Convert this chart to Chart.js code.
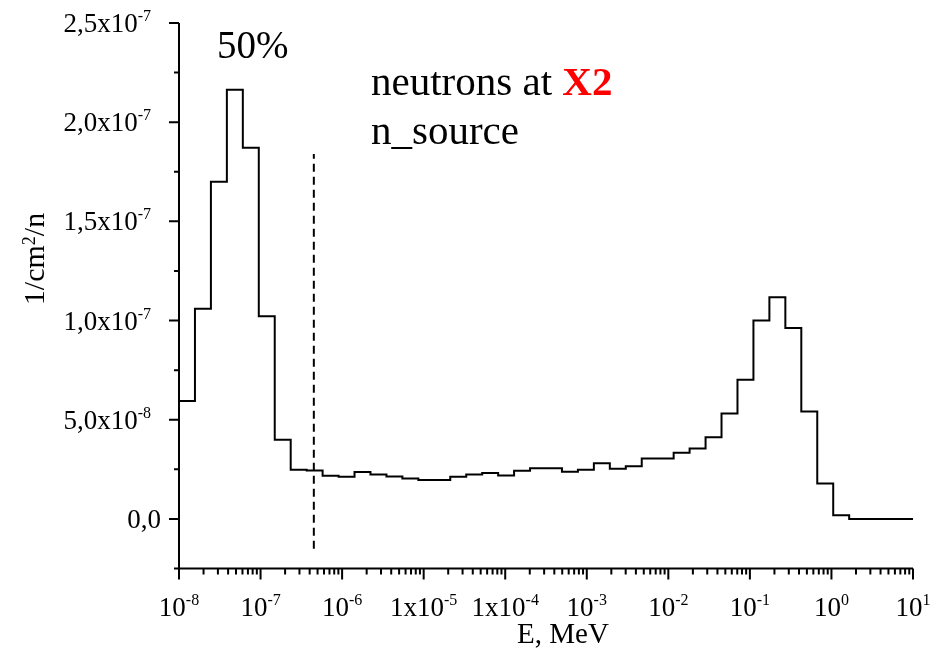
<!DOCTYPE html>
<html>
<head>
<meta charset="utf-8">
<script src="https://cdn.jsdelivr.net/npm/chart.js@4"></script>
<style>
  html, body { margin: 0; padding: 0; background: #fff; }
  #wrap { width: 944px; height: 654px; }
</style>
</head>
<body>
<div id="wrap"><canvas id="spectrum"></canvas></div>
<script>
// group structure: equal lethargy groups between E_MIN and E_MAX (MeV)
const E_MIN = 1e-8;
const E_MAX = 10;
const GROUPS = 46;

// group flux, 1/cm^2/n, lowest energy first
const flux = [
  5.95e-8, 1.06e-7, 1.70e-7, 2.163e-7, 1.871e-7, 1.022e-7, 3.99e-8, 2.48e-8,
  2.44e-8, 2.18e-8, 2.13e-8, 2.36e-8, 2.24e-8, 2.14e-8, 2.04e-8, 1.96e-8,
  1.96e-8, 2.13e-8, 2.24e-8, 2.31e-8, 2.19e-8, 2.43e-8, 2.56e-8, 2.56e-8,
  2.38e-8, 2.48e-8, 2.81e-8, 2.53e-8, 2.66e-8, 3.05e-8, 3.05e-8, 3.34e-8,
  3.55e-8, 4.12e-8, 5.32e-8, 7.02e-8, 1.00e-7, 1.118e-7, 9.62e-8, 5.42e-8,
  1.79e-8, 1.8e-9, 0, 0, 0, 0
];

// thermal cut marker
const cutEnergy = 4.5e-7;
const cutRange = [-1.5e-8, 1.84e-7];

const yMin = -2.5e-8;
const yMax = 2.5e-7;
const yMajor = [0, 5e-8, 1e-7, 1.5e-7, 2e-7, 2.5e-7];
const yMinor = [-2.5e-8, 2.5e-8, 7.5e-8, 1.25e-7, 1.75e-7, 2.25e-7];
const yLabels = [
  ["0,0", ""], ["5,0x10", "-8"], ["1,0x10", "-7"],
  ["1,5x10", "-7"], ["2,0x10", "-7"], ["2,5x10", "-7"]
];

const xMajor = [1e-8, 1e-7, 1e-6, 1e-5, 1e-4, 1e-3, 1e-2, 1e-1, 1, 10];
const xLabels = [
  ["10", "-8"], ["10", "-7"], ["10", "-6"], ["1x10", "-5"], ["1x10", "-4"],
  ["10", "-3"], ["10", "-2"], ["10", "-1"], ["10", "0"], ["10", "1"]
];

const edges = [];
for (let k = 0; k <= GROUPS; k++) {
  edges.push(E_MIN * Math.pow(E_MAX / E_MIN, k / GROUPS));
}

const histPoints = flux.map((v, k) => ({ x: edges[k], y: v }));
histPoints.push({ x: edges[GROUPS], y: flux[GROUPS - 1] });

const FONT = "'Liberation Serif', 'Times New Roman', serif";

// base text followed by a raised exponent
function supWidth(ctx, base, sup, size, supSize) {
  ctx.font = size + "px " + FONT;
  const w = ctx.measureText(base).width;
  ctx.font = supSize + "px " + FONT;
  return w + (sup ? ctx.measureText(sup).width : 0);
}

function drawSup(ctx, base, sup, x, y, size, supSize, rise) {
  ctx.textAlign = "left";
  ctx.textBaseline = "alphabetic";
  ctx.font = size + "px " + FONT;
  ctx.fillText(base, x, y);
  const w = ctx.measureText(base).width;
  if (sup) {
    ctx.font = supSize + "px " + FONT;
    ctx.fillText(sup, x + w, y - rise);
  }
}

const axesPlugin = {
  id: "axes",
  afterDraw(chart) {
    const ctx = chart.ctx;
    const xs = chart.scales.x;
    const ys = chart.scales.y;
    const area = chart.chartArea;
    ctx.save();
    ctx.strokeStyle = "#000";
    ctx.fillStyle = "#000";
    ctx.lineWidth = 2;

    // axis lines
    ctx.beginPath();
    ctx.moveTo(area.left, area.top);
    ctx.lineTo(area.left, area.bottom);
    ctx.lineTo(area.right, area.bottom);
    ctx.stroke();

    // y ticks
    ctx.beginPath();
    yMajor.forEach(v => {
      const py = ys.getPixelForValue(v);
      ctx.moveTo(area.left - 10, py);
      ctx.lineTo(area.left, py);
    });
    yMinor.forEach(v => {
      const py = ys.getPixelForValue(v);
      ctx.moveTo(area.left - 5, py);
      ctx.lineTo(area.left, py);
    });

    // x ticks, decades plus 2..9 minors
    xMajor.forEach(v => {
      const px = xs.getPixelForValue(v);
      ctx.moveTo(px, area.bottom);
      ctx.lineTo(px, area.bottom + 11);
    });
    for (let d = 0; d < xMajor.length - 1; d++) {
      for (let m = 2; m <= 9; m++) {
        const px = xs.getPixelForValue(xMajor[d] * m);
        ctx.moveTo(px, area.bottom);
        ctx.lineTo(px, area.bottom + 6);
      }
    }
    ctx.stroke();

    // y tick labels, right aligned
    yMajor.forEach((v, i) => {
      const [base, sup] = yLabels[i];
      const py = ys.getPixelForValue(v);
      const w = supWidth(ctx, base, sup, 27, 16);
      const right = area.left - (sup ? 28 : 18);
      drawSup(ctx, base, sup, right - w, py + 9, 27, 16, 11);
    });

    // x tick labels, centred under the decade
    xMajor.forEach((v, i) => {
      const [base, sup] = xLabels[i];
      const px = xs.getPixelForValue(v);
      const w = supWidth(ctx, base, sup, 27, 16);
      drawSup(ctx, base, sup, px - w / 2, area.bottom + 47, 27, 16, 11);
    });

    // axis titles
    ctx.font = "29px " + FONT;
    ctx.textAlign = "center";
    ctx.textBaseline = "alphabetic";
    ctx.fillText("E, MeV", 563, 643);

    ctx.save();
    ctx.translate(43.5, 259);
    ctx.rotate(-Math.PI / 2);
    ctx.font = "30px " + FONT;
    const w1 = ctx.measureText("1/cm").width;
    const w3 = ctx.measureText("/n").width;
    ctx.font = "18px " + FONT;
    const w2 = ctx.measureText("2").width;
    let x0 = -(w1 + w2 + w3) / 2;
    ctx.textAlign = "left";
    ctx.font = "30px " + FONT;
    ctx.fillText("1/cm", x0, 0);
    ctx.font = "18px " + FONT;
    ctx.fillText("2", x0 + w1, -9);
    ctx.font = "30px " + FONT;
    ctx.fillText("/n", x0 + w1 + w2, 0);
    ctx.restore();

    // annotations
    ctx.textAlign = "left";
    ctx.font = "39px " + FONT;
    ctx.fillText("50%", 217, 58);
    ctx.font = "41px " + FONT;
    ctx.fillText("neutrons at ", 371, 95);
    const wn = ctx.measureText("neutrons at ").width;
    ctx.fillStyle = "#ff0000";
    ctx.font = "bold 41px " + FONT;
    ctx.fillText("X2", 371 + wn, 95);
    ctx.fillStyle = "#000";
    ctx.font = "41px " + FONT;
    ctx.fillText("n_source", 371, 144);

    ctx.restore();
  }
};

new Chart(document.getElementById("spectrum"), {
  type: "line",
  data: {
    datasets: [
      {
        data: histPoints,
        stepped: true,
        borderColor: "#000",
        borderWidth: 2,
        borderJoinStyle: "miter",
        pointRadius: 0,
        fill: false
      },
      {
        data: [
          { x: cutEnergy, y: cutRange[0] },
          { x: cutEnergy, y: cutRange[1] }
        ],
        borderColor: "#000",
        borderWidth: 2,
        borderDash: [8, 5],
        pointRadius: 0,
        fill: false
      }
    ]
  },
  options: {
    responsive: true,
    maintainAspectRatio: false,
    animation: false,
    layout: { padding: { left: 179, top: 23, right: 31, bottom: 85.5 } },
    plugins: {
      legend: { display: false },
      tooltip: { enabled: false }
    },
    scales: {
      x: { type: "logarithmic", min: E_MIN, max: E_MAX, display: false },
      y: { type: "linear", min: yMin, max: yMax, display: false }
    }
  },
  plugins: [axesPlugin]
});
</script>
</body>
</html>
